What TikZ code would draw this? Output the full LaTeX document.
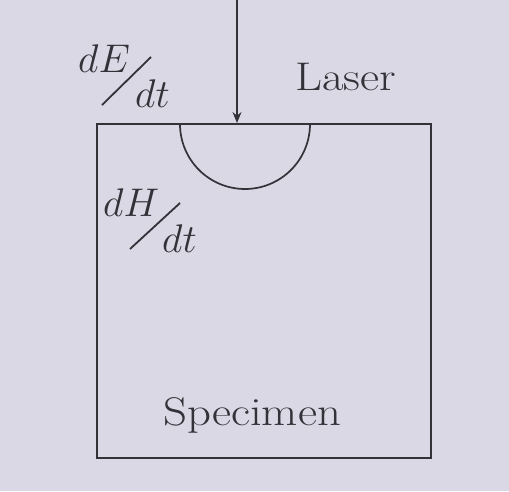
\RequirePackage{fix-cm}
\documentclass[tikz,border=0pt]{standalone}
\usepackage{graphicx}
\usetikzlibrary{arrows.meta}
\definecolor{paper}{RGB}{218,216,228}
\definecolor{ink}{RGB}{50,50,56}
\newcommand{\wide}[1]{\scalebox{1.17}[1]{#1}}
\begin{document}
\begin{tikzpicture}[x=1pt,y=-1pt,
  edge/.style={draw=ink, line width=1.7pt},
  lbl/.style={inner sep=0pt, anchor=base west, text=ink, font=\fontsize{40}{48}\selectfont},
  slash/.style={draw=ink, line width=1.8pt}]
\fill[paper] (0,0) rectangle (509,491);
\useasboundingbox (0,0) rectangle (509,491);
% specimen box
\coordinate (tl) at (97,124);
\coordinate (br) at (431,458);
\draw[edge] (tl) rectangle (br);
% melt pool
\coordinate (poolL) at (180,124);
\draw[edge] (poolL) arc[start angle=180, end angle=0, radius=65];
% laser arrow
\coordinate (src) at (237,0);
\coordinate (hit) at (237,123);
\draw[edge, line width=1.3pt, -{Stealth[length=11pt, width=9pt]}] (src) -- (hit);
% labels
\node[lbl] (laser) at (295,90) {\wide{Laser}};
\node[lbl] (spec) at (163,425) {\wide{Specimen}};
\node[lbl] (dE) at (78,72) {$dE$};
\node[lbl] (dt1) at (135,107) {$dt$};
\draw[slash] (102,105) -- (151,57);
\node[lbl] (dH) at (103,216) {$dH$};
\node[lbl] (dt2) at (162,252) {$dt$};
\draw[slash] (130,249) -- (180,203);
\end{tikzpicture}
\end{document}
